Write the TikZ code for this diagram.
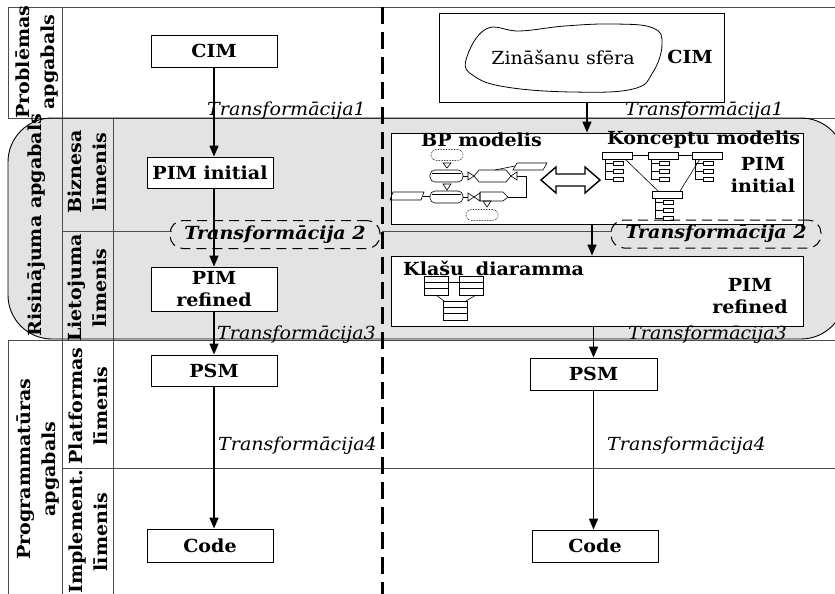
\documentclass[tikz,border=0pt]{standalone}
\usepackage{fontspec}
\setmainfont{DejaVu Serif}[FakeStretch=1.06]
\usetikzlibrary{arrows.meta}
\newcommand\fbold{\fontsize{18}{22}\selectfont\bfseries}
\newcommand\flevel{\fontsize{18}{25}\selectfont\bfseries}
\newcommand\fital{\fontsize{18}{20}\selectfont\itshape}
\newcommand\fbital{\fontsize{18}{20}\selectfont\bfseries\itshape}
\newcommand\fplain{\fontsize{18}{20}\selectfont}
\begin{document}
\begin{tikzpicture}[x=1pt,y=-1pt,
  gridline/.style={draw=black!70, line width=0.9pt},
  box/.style={draw=black, line width=0.9pt, fill=white, inner sep=0pt, font=\fbold, align=center},
  arr/.style={line width=1.6pt, -{Triangle[length=11pt,width=9pt]}},
  lvl/.style={rotate=90, align=center, font=\flevel, inner sep=0pt},
  trans/.style={font=\fital, anchor=base west, inner sep=0pt},
  trans2/.style={draw, dash pattern=on 10pt off 6pt, line width=1pt, rounded corners=13,
    minimum width=210, minimum height=28, inner sep=0pt, font=\fbital},
  mini/.style={line width=0.6pt},
  dotcap/.style={draw, densely dotted, line width=0.6pt, rounded corners=5},
  hdr/.style={draw, line width=0.6pt},
  title/.style={font=\fbold, inner sep=0pt}]
\useasboundingbox (0,0) rectangle (835,594);
\clip (0,0) rectangle (835,594);

% shaded solution domain
\fill[black!11, rounded corners=44] (8,118) rectangle (845,339);

% table grid
\draw[gridline] (8,7) -- (835,7);
\draw[gridline] (8,7) -- (8,118);
\draw[gridline] (8,340.5) -- (8,594);
\draw[gridline] (62,7) -- (62,594);
\draw[gridline] (113,118) -- (113,594);
\draw[gridline] (8,118) -- (835,118);
\draw[gridline] (8,340.5) -- (835,340.5);
\draw[gridline] (62,468) -- (835,468);
\draw[gridline] (62,231) -- (172,231);
\draw[gridline] (382,231) -- (612,231);
\draw[line width=0.9pt, rounded corners=44] (8,118) rectangle (845,339);

% row and level labels
\node[lvl] (lp) at (37,62) {Problēmas\\apgabals};
\node[lvl] (lr) at (37,225) {Risinājuma apgabals};
\node[lvl] (lb) at (87,172) {Biznesa\\līmenis};
\node[lvl] (ll) at (87,288) {Lietojuma\\līmenis};
\node[lvl] (lpr) at (38,469) {Programmatūras\\apgabals};
\node[lvl] (lpl) at (88,406) {Platformas\\līmenis};
\node[lvl] (lim) at (88,532) {Implement.\\līmenis};

% left column: generic MDA chain
\node[box, minimum width=126, minimum height=32] (cimL) at (214,51) {CIM};
\node[box, minimum width=126, minimum height=31] (pimiL) at (210,172.5) {PIM initial};
\node[box, minimum width=126, minimum height=44] (pimrL) at (214,289) {PIM\\refined};
\node[box, minimum width=126, minimum height=31] (psmL) at (214,370.5) {PSM};
\node[box, minimum width=126, minimum height=33] (codeL) at (210,545.5) {Code};

% right column: knowledge based chain
\node[box, minimum width=285, minimum height=89] (cimR) at (581.5,57.5) {};
\node[box, minimum width=412, minimum height=91] (pimiR) at (597,178.5) {};
\node[box, minimum width=412, minimum height=70] (klasR) at (597,291) {};
\node[box, minimum width=127, minimum height=32] (psmR) at (593.5,374) {PSM};
\node[box, minimum width=126, minimum height=32] (codeR) at (595,546) {Code};

% knowledge sphere
\draw[line width=0.8pt] plot[smooth cycle, tension=0.7] coordinates
  {(466,60) (486,29) (520,31) (565,26) (615,24) (653,28) (662,44) (653,72) (633,89) (572,92) (506,87) (474,76)};
\node[font=\fplain, inner sep=0pt] (zin) at (563,57) {Zināšanu sfēra};
\node[title] (cimRt) at (690,57) {CIM};

% PIM initial contents
\node[title, anchor=west] (bpt) at (421,140) {BP modelis};
\node[title, anchor=west] (kont) at (607,140) {Konceptu modelis};
\node[title, align=center] (pimit) at (763,175) {PIM\\initial};

% business process sketch
\node[dotcap, minimum width=32, minimum height=11, inner sep=0pt] (ev1) at (447,155) {};
\node[dotcap, minimum width=32, minimum height=11, inner sep=0pt] (ev2) at (482,215) {};
\draw[mini] (443,163) -- (451,163) -- (447,168) -- cycle;
\draw[mini] (443,184) -- (451,184) -- (447,190) -- cycle;
\draw[mini] (483,201) -- (491,201) -- (487,207) -- cycle;
\draw[mini, rounded corners=5] (430,170) rectangle (463,182);
\draw[mini] (432,173) -- (461,173);
\draw[mini, rounded corners=5] (430,191) rectangle (463,203);
\draw[mini] (432,194) -- (461,194);
\draw[mini] (468,172) -- (474,176) -- (468,180) -- cycle;
\draw[mini] (517,172) -- (511,176) -- (517,180) -- cycle;
\draw[mini] (468,193) -- (474,197) -- (468,201) -- cycle;
\draw[mini] (480,193) -- (474,197) -- (480,201) -- cycle;
\draw[mini] (479,170) -- (506,170) -- (511,176) -- (506,182) -- (479,182) -- (474,176) -- cycle;
\draw[mini] (480,192) -- (503,192) -- (508,197) -- (503,201) -- (480,201) -- cycle;
\draw[mini] (517,163) -- (547,163) -- (543,170) -- (513,170) -- cycle;
\draw[mini] (393,192) -- (424,192) -- (421,200) -- (390,200) -- cycle;
\draw[mini] (495,170) -- (515,166);
\draw[mini] (517,176) -- (526,176) -- (526,197) -- (508,197);
\draw[mini] (423,196) -- (430,196);
\draw[mini] (463,176) -- (468,176);
\draw[mini] (463,197) -- (468,197);

% double arrow between models
\draw[line width=1.4pt, line join=miter] (541,180) -- (556,167) -- (556,174) -- (585,174) -- (585,167)
  -- (600,180) -- (585,193) -- (585,186) -- (556,186) -- (556,193) -- cycle;

% concept model sketch
\foreach \x/\y in {602/152, 648/152, 692/152, 652/191} {
  \draw[hdr] (\x,\y) rectangle ++(30,7);
  \draw[mini] (\x+3,\y+7) -- (\x+3,\y+27);
  \foreach \d in {11,19,27} {
    \draw[mini] (\x+3,\y+\d) -- (\x+11,\y+\d);
    \draw[mini] (\x+11,\y+\d-2) rectangle ++(10,4);
  }
}
\draw[mini] (632,155) -- (648,155);
\draw[mini] (678,155) -- (692,155);
\draw[mini] (625,159) -- (658,191);
\draw[mini] (700,159) -- (680,191);

% class diagram contents
\node[title, anchor=west] (klt) at (403,268) {Klašu\hspace{12pt}diaramma};
\node[title, align=center] (pimrt) at (750,296) {PIM\\refined};
\foreach \x/\y in {424/276, 459/276, 443/301} {
  \draw[mini] (\x,\y) rectangle ++(24,19);
  \draw[mini] (\x,\y+6) -- ++(24,0);
  \draw[mini] (\x,\y+12) -- ++(24,0);
}
\draw[mini] (448,282) -- (459,282);
\draw[mini] (436,295) -- (444,301);
\draw[mini] (476,295) -- (466,301);

% transformation 2 markers
\node[trans2] (t2L) at (275,234.5) {Transformācija 2};
\node[trans2] (t2R) at (716,234) {Transformācija 2};

% transformations
\draw[arr] (cimL.south) -- (cimL.south |- pimiL.north);
\draw[arr] (pimrL.north |- pimiL.south) -- (pimrL.north);
\draw[arr] (pimrL.south) -- (pimrL.south |- psmL.north);
\draw[arr] (psmL.south) -- (psmL.south |- codeL.north);
\draw[arr] ([xshift=5.5pt]cimR.south) -- ([xshift=5.5pt]cimR.south |- pimiR.north);
\draw[arr] ([xshift=-5pt]pimiR.south) -- ([xshift=-5pt]pimiR.south |- klasR.north);
\draw[arr] (psmR.north |- klasR.south) -- (psmR.north);
\draw[arr] (psmR.south) -- (psmR.south |- codeR.north);

\node[trans] (t1L) at (207,115) {Transformācija1};
\node[trans] (t1R) at (625,115) {Transformācija1};
\node[trans] (t3L) at (217,339) {Transformācija3};
\node[trans] (t3R) at (628,339) {Transformācija3};
\node[trans] (t4L) at (218,450) {Transformācija4};
\node[trans] (t4R) at (607,450) {Transformācija4};

% boundary between the generic and the knowledge based approach
\draw[line width=3pt, dash pattern=on 17pt off 8pt] (382,7) -- (382,594);
\end{tikzpicture}
\end{document}
